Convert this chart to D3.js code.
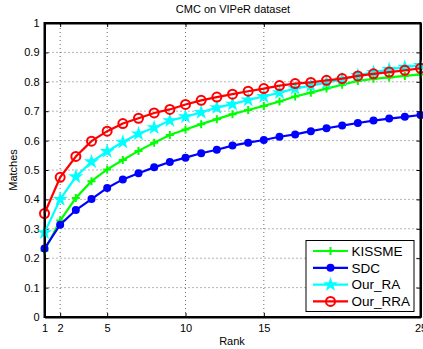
<!DOCTYPE html>
<html><head><meta charset="utf-8">
<script src="https://cdn.jsdelivr.net/npm/d3@7"></script>
<style>body{margin:0;background:#fff}svg{display:block}text{font-family:"Liberation Sans",Arial,sans-serif}</style>
</head><body>
<script>
const ranks = d3.range(1, 26);
const kissme = [0.225,0.328,0.405,0.462,0.502,0.534,0.565,0.593,0.619,0.638,0.656,0.673,0.690,0.704,0.718,0.733,0.750,0.763,0.777,0.790,0.803,0.810,0.815,0.820,0.825];
const sdc    = [0.233,0.314,0.364,0.401,0.439,0.468,0.489,0.509,0.527,0.542,0.557,0.569,0.583,0.593,0.602,0.613,0.621,0.632,0.642,0.651,0.660,0.668,0.675,0.681,0.687];
const ourRA  = [0.287,0.400,0.477,0.528,0.563,0.595,0.623,0.644,0.668,0.681,0.696,0.712,0.724,0.738,0.750,0.763,0.777,0.787,0.797,0.808,0.822,0.832,0.842,0.850,0.856];
const ourRRA = [0.352,0.475,0.546,0.598,0.632,0.658,0.676,0.694,0.706,0.723,0.737,0.748,0.758,0.768,0.777,0.787,0.794,0.798,0.805,0.811,0.820,0.827,0.833,0.839,0.846];
const seriesNames = ["KISSME","SDC","Our_RA","Our_RRA"];
const xTicks = [1,2,5,10,15,25];
const yTicks = [0,0.1,0.2,0.3,0.4,0.5,0.6,0.7,0.8,0.9,1];

const series = [
  {name: seriesNames[0], values: kissme, color: "#00ff00", marker: "plus"},
  {name: seriesNames[1], values: sdc, color: "#0000ff", marker: "dot"},
  {name: seriesNames[2], values: ourRA, color: "#00ffff", marker: "star"},
  {name: seriesNames[3], values: ourRRA, color: "#ff0000", marker: "circle"}
];

const W = 423, H = 349;
const L = 44.5, R = 420.5, T = 23, B = 317;
const svg = d3.select("body").append("svg").attr("width", W).attr("height", H);
const x = d3.scaleLinear().domain([1,25]).range([L,R]);
const y = d3.scaleLinear().domain([0,1]).range([B,T]);

// grid
const grid = svg.append("g").attr("stroke","#444").attr("stroke-width",0.8).attr("stroke-dasharray","1,3");
xTicks.filter(t => t>1 && t<25).forEach(t => grid.append("line").attr("x1",x(t)).attr("x2",x(t)).attr("y1",B).attr("y2",T));
yTicks.filter(t => t>0 && t<1).forEach(t => grid.append("line").attr("x1",L).attr("x2",R).attr("y1",y(t)).attr("y2",y(t)));

// axes
const fmt = d => (d===0||d===1) ? String(d) : d3.format(".1f")(d);
const ax = svg.append("g").attr("transform",`translate(0,${B})`)
  .call(d3.axisBottom(x).tickValues(xTicks).tickSizeInner(-4).tickSizeOuter(0).tickPadding(7));
const ay = svg.append("g").attr("transform",`translate(${L},0)`)
  .call(d3.axisLeft(y).tickValues(yTicks).tickFormat(fmt).tickSizeInner(-4).tickSizeOuter(0).tickPadding(5));
const axTop = svg.append("g").attr("transform",`translate(0,${T})`)
  .call(d3.axisTop(x).tickValues(xTicks).tickSizeInner(-4).tickSizeOuter(0).tickFormat(""));
const ayR = svg.append("g").attr("transform",`translate(${R},0)`)
  .call(d3.axisRight(y).tickValues(yTicks).tickSizeInner(-4).tickSizeOuter(0).tickFormat(""));
[ax,ay,axTop,ayR].forEach(g => {
  g.select(".domain").attr("stroke","#000").attr("stroke-width",2);
  g.selectAll(".tick line").attr("stroke","#000").attr("stroke-width",1);
  g.selectAll(".tick text").attr("fill","#000").attr("font-size",11).attr("font-family","Liberation Sans, Arial, sans-serif");
});

// lines and markers
function drawMarker(g, type, color, cx, cy, s) {
  if (type === "plus") {
    g.append("path").attr("d",`M${cx-4},${cy}H${cx+4}M${cx},${cy-4}V${cy+4}`).attr("stroke",color).attr("stroke-width",2).attr("fill","none");
  } else if (type === "dot") {
    g.append("circle").attr("cx",cx).attr("cy",cy).attr("r",4).attr("fill",color);
  } else if (type === "star") {
    g.append("path").attr("d", d3.symbol(d3.symbolStar, 70)()).attr("transform",`translate(${cx},${cy})`).attr("fill",color);
  } else if (type === "circle") {
    g.append("circle").attr("cx",cx).attr("cy",cy).attr("r",4.5).attr("fill","none").attr("stroke",color).attr("stroke-width",2);
  }
}
const line = d3.line().x((d,i) => x(ranks[i])).y(d => y(d));
series.forEach(s => {
  const g = svg.append("g");
  g.append("path").datum(s.values).attr("d",line).attr("fill","none").attr("stroke",s.color).attr("stroke-width",2.2);
  s.values.forEach((v,i) => drawMarker(g, s.marker, s.color, x(ranks[i]), y(v)));
});

// redraw box edges on top
svg.append("rect").attr("x",L).attr("y",T).attr("width",R-L).attr("height",B-T).attr("fill","none").attr("stroke","#000").attr("stroke-width",2);

// title & labels
svg.append("text").attr("x",233).attr("y",13).attr("text-anchor","middle").attr("font-size",11).text("CMC on VIPeR dataset");
svg.append("text").attr("x",232).attr("y",345).attr("text-anchor","middle").attr("font-size",11).text("Rank");
svg.append("text").attr("transform","translate(17,170) rotate(-90)").attr("text-anchor","middle").attr("font-size",11).text("Matches");

// legend
const lg = svg.append("g");
lg.append("rect").attr("x",306).attr("y",240.5).attr("width",108).attr("height",71).attr("fill","#fff").attr("stroke","#000").attr("stroke-width",1);
series.forEach((s,i) => {
  const ly = 251 + i*16.8;
  lg.append("line").attr("x1",313).attr("x2",348).attr("y1",ly).attr("y2",ly).attr("stroke",s.color).attr("stroke-width",2.2);
  drawMarker(lg, s.marker, s.color, 330.5, ly);
  lg.append("text").attr("x",351.5).attr("y",ly+4.8).attr("font-size",13.5).text(s.name);
});
</script>
</body></html>
